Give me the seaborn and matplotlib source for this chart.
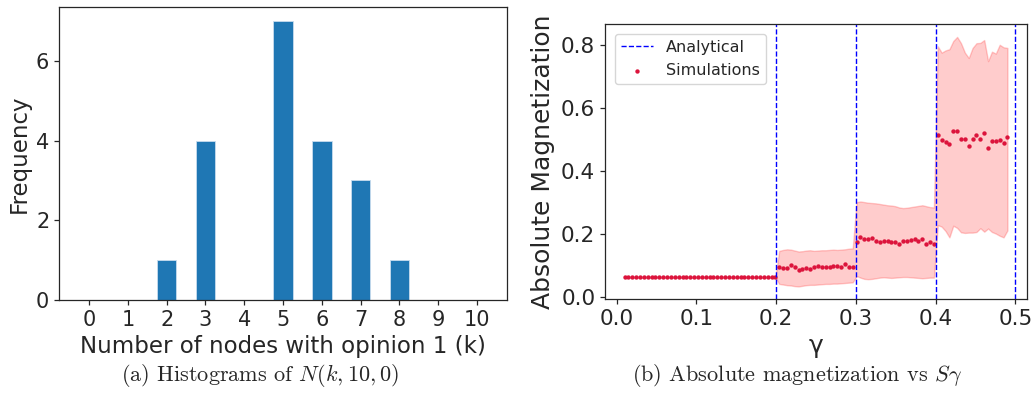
import numpy as np
import pandas as pd
import matplotlib
matplotlib.use("Agg")
import matplotlib.pyplot as plt
import seaborn as sns

# ---------------- data ----------------
k_values = [0, 1, 2, 3, 4, 5, 6, 7, 8, 9, 10]
k_freq = [0, 0, 1, 4, 0, 7, 4, 3, 1, 0, 0]

gamma = np.linspace(0.01, 0.49, 100)

mag_seg1 = [0.061] * 40
mag_seg2 = [0.093, 0.089, 0.089, 0.100, 0.095, 0.083, 0.087, 0.091, 0.087, 0.093,
            0.098, 0.095, 0.095, 0.095, 0.098, 0.098, 0.095, 0.102, 0.095, 0.093]
mag_seg3 = [0.173, 0.189, 0.182, 0.182, 0.186, 0.177, 0.173, 0.177, 0.177, 0.173,
            0.173, 0.167, 0.175, 0.177, 0.179, 0.183, 0.177, 0.183, 0.168, 0.173, 0.168]
mag_seg4 = [0.514, 0.496, 0.490, 0.485, 0.527, 0.527, 0.501, 0.501, 0.477, 0.501,
            0.513, 0.501, 0.521, 0.473, 0.493, 0.493, 0.497, 0.487, 0.507]

low_seg1 = [0.061] * 40
low_seg2 = [0.040, 0.038, 0.036, 0.035, 0.033, 0.032, 0.034, 0.036, 0.037, 0.037,
            0.038, 0.039, 0.040, 0.040, 0.041, 0.041, 0.042, 0.043, 0.044, 0.045]
low_seg3 = [0.065, 0.060, 0.056, 0.055, 0.056, 0.058, 0.060, 0.061, 0.060, 0.059,
            0.060, 0.061, 0.062, 0.062, 0.061, 0.060, 0.059, 0.058, 0.059, 0.060, 0.060]
low_seg4 = [0.227, 0.222, 0.208, 0.188, 0.225, 0.218, 0.204, 0.202, 0.203, 0.203,
            0.205, 0.217, 0.206, 0.216, 0.205, 0.200, 0.193, 0.188, 0.210]

high_seg1 = [0.061] * 40
high_seg2 = [0.145, 0.148, 0.150, 0.149, 0.146, 0.143, 0.144, 0.146, 0.147, 0.145,
             0.146, 0.147, 0.147, 0.148, 0.149, 0.148, 0.149, 0.150, 0.152, 0.153]
high_seg3 = [0.300, 0.302, 0.300, 0.298, 0.297, 0.296, 0.294, 0.292, 0.290, 0.289,
             0.287, 0.283, 0.281, 0.282, 0.284, 0.286, 0.288, 0.290, 0.287, 0.284, 0.283]
high_seg4 = [0.795, 0.775, 0.782, 0.786, 0.812, 0.825, 0.805, 0.775, 0.758, 0.790,
             0.805, 0.806, 0.815, 0.748, 0.778, 0.772, 0.800, 0.792, 0.790]

analytical_gamma = [0.2, 0.3, 0.4, 0.5]

magnetization = np.array(mag_seg1 + mag_seg2 + mag_seg3 + mag_seg4)
band_low = np.array(low_seg1 + low_seg2 + low_seg3 + low_seg4)
band_high = np.array(high_seg1 + high_seg2 + high_seg3 + high_seg4)

hist_df = pd.DataFrame({"k": k_values, "freq": k_freq})
sim_df = pd.DataFrame({"gamma": gamma, "mag": magnetization})

# ---------------- style ----------------
sns.set_theme(style="ticks", rc={
    "axes.linewidth": 0.9,
    "xtick.major.size": 3.5,
    "ytick.major.size": 3.5,
    "xtick.major.width": 0.9,
    "ytick.major.width": 0.9,
    "axes.edgecolor": ".15",
})
plt.rcParams["font.family"] = ["DejaVu Sans"]
plt.rcParams["mathtext.fontset"] = "cm"

fig = plt.figure(figsize=(10.34, 4.09), dpi=100)
ax1 = fig.add_axes([0.0571, 0.2665, 0.4333, 0.7164])
ax2 = fig.add_axes([0.5851, 0.2689, 0.4081, 0.6724])

# ---------------- left: histogram ----------------
sns.histplot(data=hist_df, x="k", weights="freq", discrete=True, shrink=0.5,
             color="#1f77b4", alpha=1.0, edgecolor="#c8dcee", linewidth=0.6, ax=ax1)
ax1.set_xticks(k_values)
ax1.set_yticks([0, 2, 4, 6])
ax1.set_xlabel("Number of nodes with opinion 1 (k)", fontsize=16.5)
ax1.set_ylabel("Frequency", fontsize=16.5)
ax1.tick_params(labelsize=15)

# ---------------- right: magnetization ----------------
ax2.fill_between(sim_df["gamma"], band_low, band_high, color="red", alpha=0.2, linewidth=1)
for i, g in enumerate(analytical_gamma):
    ax2.axvline(g, color="blue", linestyle="--", linewidth=1.0,
                label="Analytical" if i == 0 else None)
sns.scatterplot(data=sim_df, x="gamma", y="mag", s=10, color="crimson",
                linewidth=0, label="Simulations", ax=ax2)
ax2.set_xlim(-0.0145, 0.5145)
ax2.set_ylim(-0.008, 0.866)
ax2.set_xticks([0.0, 0.1, 0.2, 0.3, 0.4, 0.5])
ax2.set_yticks([0.0, 0.2, 0.4, 0.6, 0.8])
ax2.set_xlabel("γ", fontsize=18)
ax2.set_ylabel("Absolute Magnetization", fontsize=18)
ax2.tick_params(labelsize=15.5)
ax2.legend(loc="upper left", fontsize=11.5, markerscale=1.0, borderaxespad=0.6)

# ---------------- captions ----------------
fig.text(0.251, 0.083, r"(a) Histograms of $N(k, 10, 0)$", ha="center", va="center",
         fontsize=16, family="cmr10")
fig.text(0.771, 0.083, r"(b) Absolute magnetization vs $S\gamma$", ha="center", va="center",
         fontsize=16, family="cmr10")

fig.savefig("out.png", dpi=100)
